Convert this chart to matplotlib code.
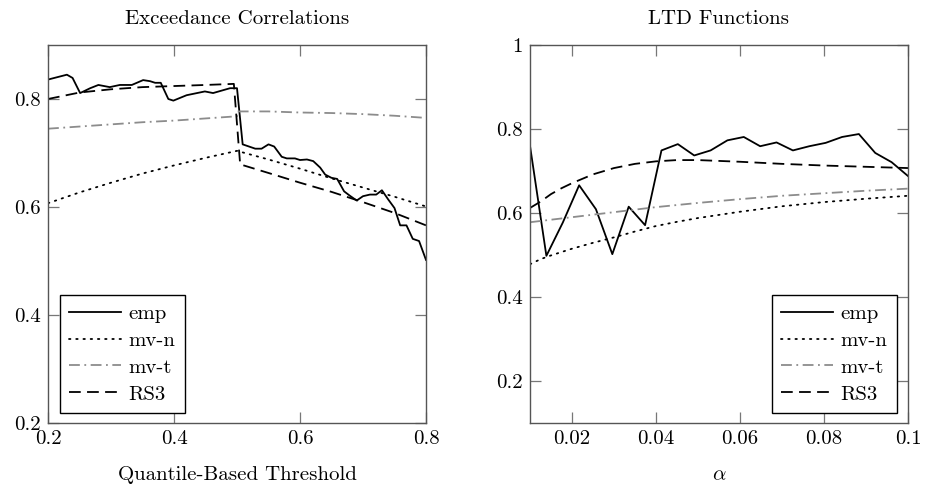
import matplotlib
matplotlib.use("Agg")
import matplotlib.pyplot as plt
from matplotlib.ticker import FormatStrFormatter

plt.rcParams['font.family'] = ['cmr10', 'DejaVu Serif']
plt.rcParams['mathtext.fontset'] = 'cm'
plt.rcParams['axes.formatter.use_mathtext'] = True

# Exceedance correlations (left)
q_emp = [0.200, 0.230, 0.239, 0.251, 0.267, 0.280, 0.298, 0.314, 0.333, 0.351,
         0.362, 0.370, 0.379, 0.391, 0.399, 0.420, 0.449, 0.462, 0.489, 0.500,
         0.509, 0.529, 0.539, 0.550, 0.559, 0.571, 0.579, 0.592, 0.600, 0.611,
         0.621, 0.632, 0.640, 0.650, 0.659, 0.670, 0.679, 0.690, 0.700, 0.711,
         0.721, 0.730, 0.740, 0.750, 0.759, 0.769, 0.779, 0.789, 0.800]
ec_emp = [0.836, 0.845, 0.839, 0.811, 0.820, 0.826, 0.822, 0.826, 0.826, 0.835,
          0.833, 0.830, 0.830, 0.800, 0.797, 0.807, 0.814, 0.811, 0.820, 0.820,
          0.716, 0.708, 0.708, 0.716, 0.712, 0.693, 0.690, 0.690, 0.687, 0.688,
          0.685, 0.673, 0.660, 0.654, 0.652, 0.629, 0.621, 0.612, 0.620, 0.623,
          0.623, 0.631, 0.614, 0.598, 0.566, 0.566, 0.541, 0.537, 0.502]

q_mvn = [0.2, 0.25, 0.3, 0.35, 0.4, 0.45, 0.5, 0.55, 0.6, 0.65, 0.7, 0.75, 0.8]
ec_mvn = [0.607, 0.627, 0.645, 0.662, 0.677, 0.691, 0.704, 0.688, 0.671, 0.653,
          0.636, 0.619, 0.601]

q_mvt = [0.2, 0.25, 0.3, 0.35, 0.4, 0.45, 0.5, 0.5, 0.55, 0.6, 0.65, 0.7, 0.75, 0.8]
ec_mvt = [0.745, 0.749, 0.753, 0.757, 0.760, 0.764, 0.768, 0.777, 0.777, 0.775,
          0.774, 0.772, 0.769, 0.765]

q_rs3 = [0.2, 0.25, 0.3, 0.35, 0.4, 0.45, 0.495, 0.505, 0.55, 0.6, 0.65, 0.7, 0.75, 0.8]
ec_rs3 = [0.800, 0.812, 0.818, 0.822, 0.824, 0.826, 0.828, 0.679, 0.663, 0.645,
          0.628, 0.609, 0.589, 0.566]

# LTD functions (right)
a_emp = [0.0100, 0.0139, 0.0178, 0.0217, 0.0257, 0.0296, 0.0335, 0.0374,
         0.0413, 0.0452, 0.0491, 0.0530, 0.0570, 0.0609, 0.0648, 0.0687,
         0.0726, 0.0765, 0.0804, 0.0843, 0.0883, 0.0922, 0.0961, 0.1000]
ltd_emp = [0.760, 0.498, 0.577, 0.666, 0.609, 0.502, 0.615, 0.571, 0.749, 0.764,
           0.737, 0.749, 0.773, 0.781, 0.759, 0.768, 0.749, 0.759, 0.767, 0.781,
           0.788, 0.743, 0.721, 0.688]

a_grid = [0.01, 0.0125, 0.015, 0.0175, 0.02, 0.025, 0.03, 0.035, 0.04, 0.045,
          0.05, 0.06, 0.07, 0.08, 0.09, 0.1]
ltd_mvn = [0.478, 0.490, 0.499, 0.507, 0.515, 0.529, 0.542, 0.556, 0.569, 0.579,
           0.588, 0.603, 0.616, 0.626, 0.634, 0.641]
ltd_mvt = [0.578, 0.581, 0.584, 0.587, 0.590, 0.596, 0.602, 0.608, 0.614, 0.619,
           0.624, 0.633, 0.641, 0.647, 0.653, 0.658]
ltd_rs3 = [0.612, 0.627, 0.645, 0.659, 0.671, 0.692, 0.707, 0.717, 0.723, 0.726,
           0.726, 0.722, 0.717, 0.713, 0.710, 0.707]

styles = dict(
    emp=dict(color='black', lw=1.3, ls='-'),
    mvn=dict(color='black', lw=1.3, ls=(0, (0.8, 3.2)), dash_capstyle='round'),
    mvt=dict(color='#8c8c8c', lw=1.3, ls=(0, (6, 2.5, 1, 2.5))),
    rs3=dict(color='black', lw=1.3, ls=(0, (6.5, 3.5))),
)

FS = 15

fig = plt.figure(figsize=(9.25, 4.93), dpi=100)
ax1 = fig.add_axes([48 / 925, 1 - 423 / 493, 378 / 925, 378 / 493])
ax2 = fig.add_axes([530 / 925, 1 - 423 / 493, 378 / 925, 378 / 493])

ax1.plot(q_emp, ec_emp, label='emp', **styles['emp'])
ax1.plot(q_mvn, ec_mvn, label='mv-n', **styles['mvn'])
ax1.plot(q_mvt, ec_mvt, label='mv-t', **styles['mvt'])
ax1.plot(q_rs3, ec_rs3, label='RS3', **styles['rs3'])

ax2.plot(a_emp, ltd_emp, label='emp', **styles['emp'])
ax2.plot(a_grid, ltd_mvn, label='mv-n', **styles['mvn'])
ax2.plot(a_grid, ltd_mvt, label='mv-t', **styles['mvt'])
ax2.plot(a_grid, ltd_rs3, label='RS3', **styles['rs3'])

ax1.set_xlim(0.2, 0.8)
ax1.set_ylim(0.2, 0.9)
ax1.set_xticks([0.2, 0.4, 0.6, 0.8])
ax1.set_yticks([0.2, 0.4, 0.6, 0.8])
ax1.set_title('Exceedance Correlations', fontsize=FS, pad=15)
ax1.set_xlabel('Quantile-Based Threshold', fontsize=FS, labelpad=13)

ax2.set_xlim(0.01, 0.1)
ax2.set_ylim(0.1, 1.0)
ax2.set_xticks([0.02, 0.04, 0.06, 0.08, 0.1])
ax2.set_yticks([0.2, 0.4, 0.6, 0.8, 1.0])
ax2.set_title('LTD Functions', fontsize=FS, pad=15)
ax2.set_xlabel(r'$\alpha$', fontsize=FS, labelpad=13)

for ax in (ax1, ax2):
    ax.xaxis.set_major_formatter(FormatStrFormatter('%g'))
    ax.yaxis.set_major_formatter(FormatStrFormatter('%g'))
    ax.tick_params(direction='in', length=8, width=0.9, color='#777777',
                   top=True, right=True, labelsize=FS, pad=5)
    for s in ax.spines.values():
        s.set_color('#555555')
        s.set_linewidth(1.0)

leg_kw = dict(fontsize=FS, fancybox=False, edgecolor='black', framealpha=1,
              handlelength=2.5, handletextpad=0.35, borderaxespad=0,
              labelspacing=0.4, borderpad=0.45)
l1 = ax1.legend(loc='lower left', bbox_to_anchor=(12 / 378, 10 / 378), **leg_kw)
l2 = ax2.legend(loc='lower right', bbox_to_anchor=(1 - 11 / 378, 10 / 378), **leg_kw)
for l in (l1, l2):
    l.get_frame().set_linewidth(1.0)

fig.savefig('out.png', dpi=100)
